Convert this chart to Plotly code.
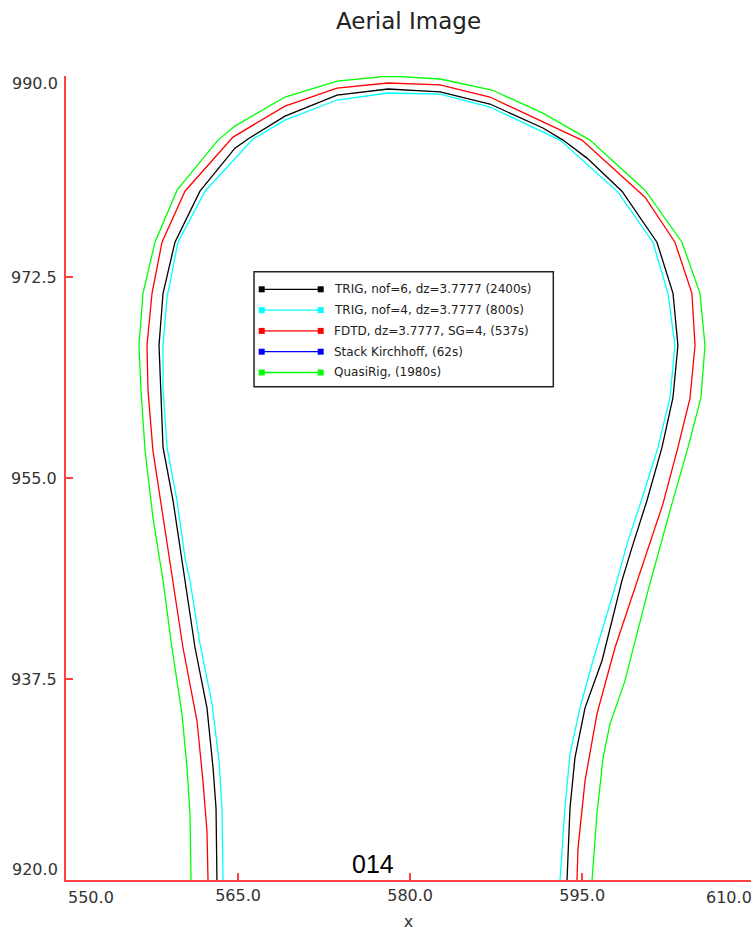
import plotly.graph_objects as go

# ---------------- data ----------------
series_names = [
    "TRIG, nof=6, dz=3.7777 (2400s)",
    "TRIG, nof=4, dz=3.7777 (800s)",
    "FDTD, dz=3.7777, SG=4, (537s)",
    "Stack Kirchhoff, (62s)",
    "QuasiRig, (1980s)",
]
series_colors = ["#000000", "#00ffff", "#ff0000", "#0000ff", "#00ff00"]

trig6_x = [563.16, 563.08, 562.82, 562.29, 561.25, 560.37, 560.11, 559.33, 558.46, 558.28,
           558.11, 558.46, 559.50, 561.68, 564.73, 565.87, 569.09, 573.63, 578.07, 582.61,
           586.96, 591.58, 593.33, 595.42, 598.47, 601.52, 602.92, 603.35, 602.92, 601.96,
           600.65, 599.34, 598.47, 596.73, 595.25, 594.37, 593.94, 593.68]
trig6_y = [920.0, 926.27, 929.76, 934.99, 940.22, 946.06, 948.07, 953.04, 957.66, 962.63,
           966.55, 971.08, 975.53, 979.97, 983.72, 984.51, 986.51, 988.34, 988.87, 988.61,
           987.56, 985.47, 984.42, 982.85, 979.97, 975.53, 971.08, 966.55, 962.02, 957.66,
           953.04, 948.94, 946.06, 939.09, 934.99, 930.63, 926.27, 920.0]

trig4_x = [563.69, 563.60, 563.34, 562.73, 561.68, 560.81, 560.37, 559.68, 558.81, 558.46,
           558.46, 558.81, 559.76, 562.12, 566.30, 569.09, 573.63, 578.07, 582.61, 586.96,
           593.07, 598.12, 601.17, 602.48, 603.09, 602.66, 601.61, 600.22, 599.00, 598.04,
           595.94, 594.81, 593.94, 593.50, 593.07]
trig4_y = [920.0, 926.27, 930.37, 935.34, 940.57, 946.06, 948.07, 953.04, 957.66, 962.63,
           966.55, 970.73, 975.53, 979.97, 984.51, 986.16, 987.91, 988.52, 988.43, 987.30,
           984.42, 979.89, 975.53, 971.08, 966.55, 962.02, 957.66, 953.21, 949.55, 946.06,
           939.09, 934.99, 930.98, 926.27, 920.0]

fdtd_x = [562.38, 562.29, 561.94, 561.42, 560.20, 559.33, 558.37, 557.58, 557.15, 557.06,
          557.50, 558.37, 560.37, 564.56, 569.09, 573.63, 578.07, 582.61, 586.96, 591.58,
          594.98, 600.48, 603.09, 604.57, 604.84, 604.40, 603.35, 602.05, 599.78, 597.86,
          596.29, 595.25, 594.64, 594.55]
fdtd_y = [920.0, 924.27, 928.63, 933.86, 940.22, 946.06, 952.16, 957.39, 962.63, 966.55,
          971.08, 975.53, 979.97, 984.68, 987.38, 988.95, 989.39, 989.22, 988.17, 985.99,
          984.42, 979.45, 975.53, 971.08, 966.55, 961.93, 957.66, 952.77, 946.06, 940.22,
          934.47, 928.63, 922.78, 920.0]

stack_x = []
stack_y = []

quasi_x = [560.90, 560.81, 560.55, 560.11, 559.24, 558.46, 557.58, 556.89, 556.54, 556.36,
           556.71, 557.76, 559.68, 563.25, 564.73, 569.09, 573.63, 577.64, 579.12, 582.61,
           587.14, 591.58, 595.68, 600.48, 603.70, 605.27, 605.71, 605.36, 604.23, 602.83,
           600.74, 598.73, 597.43, 596.82, 596.29, 595.86]
quasi_y = [920.0, 925.75, 929.76, 934.47, 940.22, 946.06, 951.55, 957.39, 962.63, 966.55,
           971.08, 975.53, 980.06, 984.42, 985.64, 988.17, 989.56, 989.95, 989.95, 989.74,
           988.78, 986.77, 984.42, 980.06, 975.53, 971.08, 966.55, 962.02, 957.66, 952.77,
           945.19, 937.34, 933.59, 930.63, 925.75, 920.0]

series_x = [trig6_x, trig4_x, fdtd_x, stack_x, quasi_x]
series_y = [trig6_y, trig4_y, fdtd_y, stack_y, quasi_y]

x_tick_vals = [550, 565, 580, 595]
x_tick_text = ["", "565.0", "580.0", "595.0"]
y_tick_vals = [920, 937.5, 955, 972.5, 990]
y_tick_text = ["", "937.5", "955.0", "972.5", ""]

# ---------------- figure ----------------
AXIS_RED = "#ff4040"
TICK_FONT = dict(family="DejaVu Sans", size=16, color="#333333")

fig = go.Figure()
for name, color, xs, ys in zip(series_names, series_colors, series_x, series_y):
    fig.add_trace(go.Scatter(x=xs, y=ys, mode="lines", name=name,
                             line=dict(color=color, width=1.3), showlegend=False))

fig.update_layout(
    width=751, height=931,
    margin=dict(l=66, r=0, t=76, b=51),
    paper_bgcolor="white", plot_bgcolor="white",
    font=dict(family="DejaVu Sans", color="#333333"),
    title=dict(text="Aerial Image", x=0.5, xref="paper", y=1 - 21 / 931, yanchor="middle",
               font=dict(family="DejaVu Sans", size=23, color="#222222")),
    showlegend=False,
)

fig.update_xaxes(range=[550, 609.72], showgrid=False, zeroline=False,
                 showline=True, linecolor=AXIS_RED, linewidth=2,
                 ticks="inside", ticklen=7, tickwidth=1.5, tickcolor=AXIS_RED,
                 tickvals=x_tick_vals, ticktext=x_tick_text, tickfont=TICK_FONT,
                 title=dict(text="x", font=dict(family="DejaVu Sans", size=16, color="#333333"),
                            standoff=20),
                 automargin=False)
fig.update_yaxes(range=[920, 990], showgrid=False, zeroline=False,
                 showline=True, linecolor=AXIS_RED, linewidth=2,
                 ticks="inside", ticklen=7, tickwidth=1.5, tickcolor=AXIS_RED,
                 tickvals=y_tick_vals, ticktext=y_tick_text, tickfont=TICK_FONT,
                 ticklabelstandoff=4, automargin=False)

# end tick labels kept inside the axis span, as in the reference
fig.add_annotation(text="550.0", xref="paper", x=0, yref="paper", y=0, xanchor="left",
                   yanchor="top", yshift=-6, showarrow=False, font=TICK_FONT)
fig.add_annotation(text="610.0", xref="paper", x=1, yref="paper", y=0, xanchor="right",
                   xshift=3, yanchor="top", yshift=-6, showarrow=False, font=TICK_FONT)
fig.add_annotation(text="990.0", xref="paper", x=0, y=990, xanchor="right", xshift=-6,
                   yanchor="top", yshift=4, showarrow=False, font=TICK_FONT)
fig.add_annotation(text="920.0", xref="paper", x=0, y=920, xanchor="right", xshift=-6,
                   yanchor="bottom", yshift=-1, showarrow=False, font=TICK_FONT)

# label inside plot
fig.add_annotation(text="014", x=576.75, y=920, yanchor="bottom", showarrow=False,
                   font=dict(family="Liberation Sans", size=25, color="#000000"))

# ---------------- legend box (layout, paper coordinates) ----------------
LEG_X0, LEG_X1, LEG_Y0, LEG_Y1 = 0.2745, 0.7114, 0.6136, 0.7566
ROW0, ROW_STEP = 0.7347, 0.02587
LINE_X0, LINE_X1, TEXT_X = 0.2857, 0.3718, 0.3890

fig.add_shape(type="rect", xref="paper", yref="paper", x0=LEG_X0, x1=LEG_X1,
              y0=LEG_Y0, y1=LEG_Y1, line=dict(color="#222222", width=1.5),
              fillcolor="white", layer="above")
for i, (name, color) in enumerate(zip(series_names, series_colors)):
    yy = ROW0 - i * ROW_STEP
    fig.add_shape(type="line", xref="paper", yref="paper", x0=LINE_X0, x1=LINE_X1,
                  y0=yy, y1=yy, line=dict(color=color, width=1.3), layer="above")
    for xm in (LINE_X0, LINE_X1):
        fig.add_shape(type="rect", xref="paper", yref="paper",
                      xsizemode="pixel", ysizemode="pixel", xanchor=xm, yanchor=yy,
                      x0=-3, x1=3, y0=-3, y1=3, line=dict(width=0),
                      fillcolor=color, layer="above")
    fig.add_annotation(text=name, xref="paper", yref="paper", x=TEXT_X, y=yy,
                       xanchor="left", yanchor="middle", showarrow=False,
                       font=dict(family="DejaVu Sans", size=12, color="#222222"))

fig.write_html("out.html",
               config={"displayModeBar": False},
               post_script="document.body.style.margin='0px';"
                           "document.body.style.overflow='hidden';")
